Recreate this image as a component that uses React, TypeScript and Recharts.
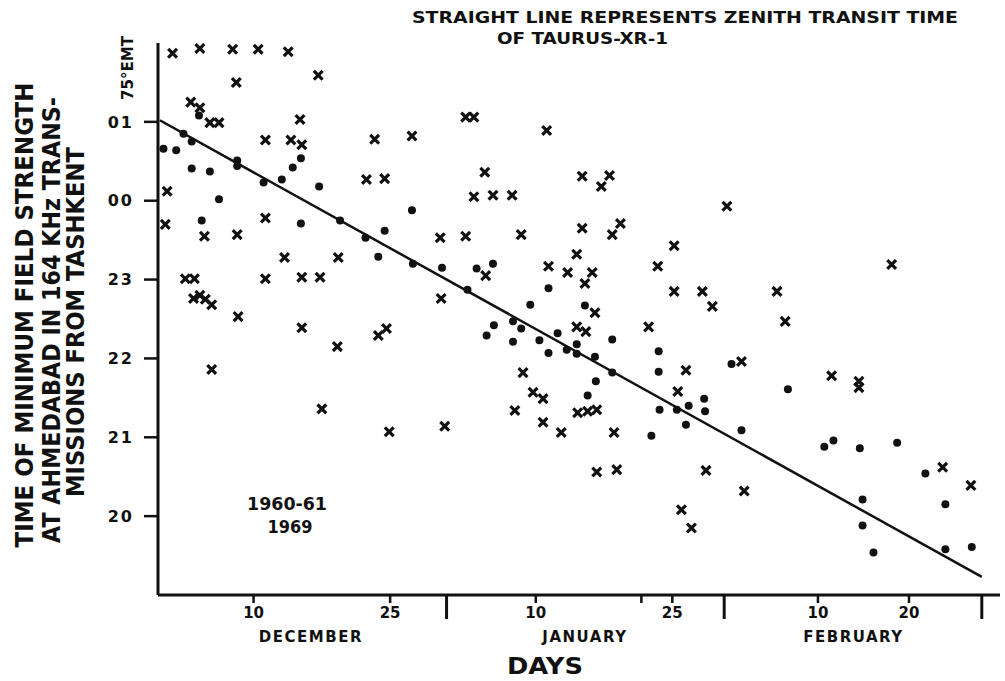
import { ComposedChart, Scatter, Line, XAxis, YAxis, Customized } from "recharts";

// day number counts from 1 December: January day n = 31 + n, February day n = 62 + n
// hours keep running past midnight, so 24 is "00" and 25 is "01"
const dots1960: [number, number][] = [
  [4.0, 25.08], [2.3, 24.85], [3.2, 24.75], [0.1, 24.66], [1.5, 24.64], [3.2, 24.41],
  [5.2, 24.37], [8.2, 24.51], [8.2, 24.44], [14.3, 24.42], [15.2, 24.54], [13.1, 24.27],
  [11.1, 24.23], [17.2, 24.18], [6.2, 24.02], [4.3, 23.75], [15.2, 23.71], [19.5, 23.75],
  [27.4, 23.88], [24.4, 23.62], [22.3, 23.53], [23.7, 23.29], [27.5, 23.2], [30.7, 23.15],
  [34.5, 23.14], [36.3, 23.2], [33.5, 22.87], [42.4, 22.89], [40.4, 22.68], [46.4, 22.67],
  [38.5, 22.47], [39.4, 22.38], [36.4, 22.42], [35.6, 22.29], [43.4, 22.32], [38.5, 22.21],
  [41.4, 22.23], [45.5, 22.18], [42.4, 22.07], [44.4, 22.11], [45.5, 22.06], [47.5, 22.02],
  [49.4, 22.24], [54.5, 22.09], [54.5, 21.83], [49.4, 21.82], [54.6, 21.35], [53.7, 21.02],
  [47.6, 21.71], [46.7, 21.53], [62.5, 21.93], [68.7, 21.61], [56.5, 21.35], [57.8, 21.4],
  [59.5, 21.49], [59.6, 21.33], [57.5, 21.16], [63.6, 21.09], [72.7, 20.88], [73.7, 20.96],
  [76.6, 20.86], [80.7, 20.93], [83.8, 20.54], [76.9, 20.21], [86.0, 20.15], [76.9, 19.88],
  [78.1, 19.54], [86.0, 19.58], [88.9, 19.61],
];

const crosses1969: [number, number][] = [
  [1.1, 25.87], [4.1, 25.93], [7.7, 25.92], [10.5, 25.92], [13.8, 25.89], [8.1, 25.5],
  [17.1, 25.59], [3.1, 25.25], [4.1, 25.18], [5.2, 24.99], [6.2, 24.99], [15.1, 25.03],
  [11.3, 24.77], [14.1, 24.77], [15.3, 24.71], [0.5, 24.12], [0.3, 23.7], [4.6, 23.55],
  [8.2, 23.57], [11.3, 23.78], [13.4, 23.28], [2.5, 23.01], [3.5, 23.01], [11.3, 23.01],
  [15.3, 23.03], [17.3, 23.03], [3.4, 22.76], [4.1, 22.8], [4.7, 22.75], [5.4, 22.68],
  [8.3, 22.53], [15.3, 22.39], [19.2, 22.15], [5.4, 21.86], [17.5, 21.36],
  [33.3, 25.06], [34.2, 25.06], [42.2, 24.89], [23.3, 24.78], [27.4, 24.82], [22.4, 24.27],
  [24.4, 24.28], [35.4, 24.36], [46.1, 24.31], [49.1, 24.32], [48.2, 24.18], [34.2, 24.05],
  [36.3, 24.07], [38.4, 24.07], [30.5, 23.53], [33.3, 23.55], [39.4, 23.57], [46.1, 23.65],
  [50.3, 23.71], [49.4, 23.57], [19.3, 23.28], [35.5, 23.05], [45.5, 23.32], [54.4, 23.17],
  [42.4, 23.17], [44.5, 23.09], [47.2, 23.09], [46.4, 22.95], [30.6, 22.76], [47.5, 22.58],
  [45.5, 22.4], [46.5, 22.34], [53.4, 22.4], [24.6, 22.38], [23.7, 22.29], [39.6, 21.82],
  [40.7, 21.57], [41.8, 21.49], [38.7, 21.34], [45.6, 21.31], [46.7, 21.33], [47.7, 21.35],
  [41.8, 21.19], [43.8, 21.06], [49.6, 21.06], [24.9, 21.07], [31.0, 21.14], [47.7, 20.56],
  [49.9, 20.59],
  [62.0, 23.93], [56.2, 23.43], [80.1, 23.19], [56.2, 22.85], [59.3, 22.85], [60.4, 22.66],
  [67.5, 22.85], [68.4, 22.47], [57.5, 21.85], [63.6, 21.96], [73.5, 21.78], [76.5, 21.71],
  [76.5, 21.63], [56.6, 21.58], [59.7, 20.58], [63.9, 20.32], [57.0, 20.08], [58.1, 19.85],
  [85.7, 20.62], [88.8, 20.39],
];

// zenith transit time of Taurus XR-1
const transitLine = [
  { d: -0.3, t: 25.02 },
  { d: 90, t: 19.23 },
];

const dayTicks = [10, 25, 41, 52.6, 56, 72, 82];
const dayTickLabels = ["10", "25", "10", "", "25", "10", "20"];
const monthEnds = [31.2, 61.7, 90];
const monthCenters = [16.3, 46.4, 75.9];
const monthNames = ["DECEMBER", "JANUARY", "FEBRUARY"];
const hourTicks = [20, 21, 22, 23, 24, 25];
const hourLabels = ["20", "21", "22", "23", "00", "01"];

const INK = "#111";
const FONT = "'DejaVu Sans', sans-serif";

const toPoints = (rows: [number, number][]) => rows.map(([d, t]) => ({ d, t }));

const DotMark = (p: any) => <circle cx={p.cx} cy={p.cy} r={4} fill={INK} />;

const CrossMark = (p: any) => {
  const { cx, cy } = p;
  const s = 4.4;
  return (
    <path
      d={`M${cx - s},${cy - s}L${cx + s},${cy + s}M${cx + s},${cy - s}L${cx - s},${cy + s}`}
      stroke={INK}
      strokeWidth={3.2}
      fill="none"
    />
  );
};

const DayTick = (props: any) => {
  const { x, y, payload } = props;
  const v = payload.value;
  const di = dayTicks.indexOf(v);
  if (di >= 0) {
    return (
      <g>
        <line x1={x} x2={x} y1={y} y2={y + 8} stroke={INK} strokeWidth={2.5} />
        {dayTickLabels[di] && (
          <text x={x} y={y + 23} textAnchor="middle" fontFamily={FONT} fontWeight="bold" fontSize={15} fill={INK}>
            {dayTickLabels[di]}
          </text>
        )}
      </g>
    );
  }
  if (monthEnds.includes(v)) {
    return <line x1={x} x2={x} y1={y} y2={y + 24} stroke={INK} strokeWidth={3} />;
  }
  const mi = monthCenters.indexOf(v);
  if (mi >= 0) {
    return (
      <text x={x} y={y + 47} textAnchor="middle" fontFamily={FONT} fontWeight="bold" fontSize={15} letterSpacing={1.5} fill={INK}>
        {monthNames[mi]}
      </text>
    );
  }
  return null;
};

const Notes = () => (
  <g fontFamily={FONT} fontWeight="bold" fill={INK}>
    <text x={412} y={23} fontSize={15} textLength={546} lengthAdjust="spacingAndGlyphs">
      STRAIGHT LINE REPRESENTS ZENITH TRANSIT TIME
    </text>
    <text x={497} y={44} fontSize={15} textLength={171} lengthAdjust="spacingAndGlyphs">
      OF TAURUS-XR-1
    </text>
    <text transform="translate(133,100) rotate(-90)" fontSize={16} textLength={64} lengthAdjust="spacingAndGlyphs">
      75°EMT
    </text>
    <text transform="translate(33,315) rotate(-90)" textAnchor="middle" fontSize={24} textLength={465} lengthAdjust="spacingAndGlyphs">
      TIME OF MINIMUM FIELD STRENGTH
    </text>
    <text transform="translate(60,320) rotate(-90)" textAnchor="middle" fontSize={24} textLength={446} lengthAdjust="spacingAndGlyphs">
      AT AHMEDABAD IN 164 KHz TRANS-
    </text>
    <text transform="translate(84,322) rotate(-90)" textAnchor="middle" fontSize={24} textLength={350} lengthAdjust="spacingAndGlyphs">
      MISSIONS FROM TASHKENT
    </text>
    <text x={287} y={510} textAnchor="middle" fontSize={17} textLength={80} lengthAdjust="spacingAndGlyphs">
      1960-61
    </text>
    <text x={290} y={533} textAnchor="middle" fontSize={17} textLength={45} lengthAdjust="spacingAndGlyphs">
      1969
    </text>
    <text x={545} y={674} textAnchor="middle" fontSize={23} textLength={76} lengthAdjust="spacingAndGlyphs">
      DAYS
    </text>
  </g>
);

export default function App() {
  return (
    <div style={{ position: "absolute", left: 0, top: 0, width: 1005, height: 681, background: "#fff" }}>
      <ComposedChart width={1005} height={681} margin={{ top: 43, right: 5, bottom: 0, left: 88 }}>
        <XAxis
          type="number"
          dataKey="d"
          domain={[-0.5, 92]}
          ticks={[...dayTicks, ...monthEnds, ...monthCenters]}
          interval={0}
          tick={<DayTick />}
          tickLine={false}
          tickSize={0}
          tickMargin={0}
          height={86}
          axisLine={{ stroke: INK, strokeWidth: 3 }}
          allowDataOverflow
        />
        <YAxis
          type="number"
          dataKey="t"
          domain={[19, 26]}
          ticks={hourTicks}
          tickFormatter={(v: number) => hourLabels[hourTicks.indexOf(v)]}
          width={70}
          tickSize={14}
          tickMargin={10}
          tickLine={{ stroke: INK, strokeWidth: 2.5 }}
          axisLine={{ stroke: INK, strokeWidth: 3 }}
          tick={{ fill: INK, fontFamily: FONT, fontWeight: "bold", fontSize: 16, letterSpacing: 2 }}
          allowDataOverflow
        />
        <Line
          data={transitLine}
          dataKey="t"
          stroke={INK}
          strokeWidth={2.5}
          dot={false}
          activeDot={false}
          isAnimationActive={false}
        />
        <Scatter name="1960-61" data={toPoints(dots1960)} dataKey="t" shape={DotMark} isAnimationActive={false} />
        <Scatter name="1969" data={toPoints(crosses1969)} dataKey="t" shape={CrossMark} isAnimationActive={false} />
        <Customized component={Notes} />
      </ComposedChart>
    </div>
  );
}
